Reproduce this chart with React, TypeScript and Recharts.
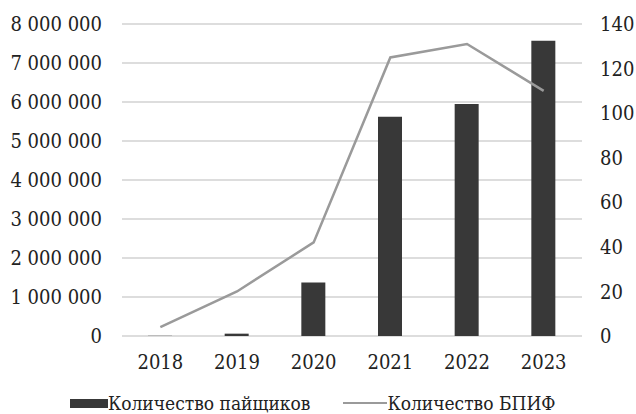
import React from 'react';
import { ComposedChart, Bar, Line, XAxis, YAxis, CartesianGrid } from 'recharts';

const years = ['2018', '2019', '2020', '2021', '2022', '2023'];
const holders = [5000, 60000, 1370000, 5620000, 5950000, 7570000];
const funds = [4, 20, 42, 125, 131, 110];
const leftTicks = [0, 1000000, 2000000, 3000000, 4000000, 5000000, 6000000, 7000000, 8000000];
const rightTicks = [0, 20, 40, 60, 80, 100, 120, 140];

const data = years.map((year, i) => ({ year, holders: holders[i], funds: funds[i] }));

const FONT = '"DejaVu Serif Condensed", "DejaVu Serif", serif';
const BAR_COLOR = '#383838';
const LINE_COLOR = '#9a9a9a';
const tickStyle = { fontFamily: FONT, fontStretch: 'condensed', fontSize: 20, fill: '#222' };

// thousands separated by spaces: 8 000 000
const formatSpaced = (v: number) => String(v).replace(/\B(?=(\d{3})+(?!\d))/g, ' ');

const App: React.FC = () => {
  return (
    <div style={{ position: 'fixed', left: 0, top: 0, width: 636, height: 414, background: '#fff' }}>
      <ComposedChart
        width={636}
        height={414}
        data={data}
        margin={{ top: 24, right: 0, left: 0, bottom: 48 }}
      >
        <CartesianGrid vertical={false} stroke="#d2d2d2" strokeWidth={1.5} yAxisId="left" />
        <XAxis
          dataKey="year"
          axisLine={false}
          tickLine={false}
          tickSize={0}
          tickMargin={19}
          height={30}
          tick={tickStyle}
        />
        <YAxis
          yAxisId="left"
          orientation="left"
          width={122}
          domain={[0, 8000000]}
          ticks={leftTicks}
          interval={0}
          axisLine={false}
          tickLine={false}
          tickSize={0}
          tickMargin={20}
          tick={tickStyle}
          tickFormatter={formatSpaced}
        />
        <YAxis
          yAxisId="right"
          orientation="right"
          width={54}
          domain={[0, 140]}
          ticks={rightTicks}
          interval={0}
          axisLine={false}
          tickLine={false}
          tickSize={0}
          tickMargin={18}
          tick={tickStyle}
        />
        <Bar yAxisId="left" dataKey="holders" fill={BAR_COLOR} barSize={24} isAnimationActive={false} />
        <Line
          yAxisId="right"
          dataKey="funds"
          type="linear"
          stroke={LINE_COLOR}
          strokeWidth={2.5}
          dot={false}
          activeDot={false}
          isAnimationActive={false}
        />
      </ComposedChart>
      <div
        style={{
          position: 'absolute',
          left: 70,
          top: 393,
          height: 20,
          lineHeight: '20px',
          display: 'flex',
          alignItems: 'center',
          fontFamily: FONT,
          fontStretch: 'condensed',
          fontSize: 19,
          color: '#222',
          whiteSpace: 'nowrap',
        }}
      >
        <span style={{ display: 'inline-block', width: 38, height: 9, background: BAR_COLOR }} />
        <span>Количество пайщиков</span>
        <span style={{ display: 'inline-block', width: 44, height: 2, background: LINE_COLOR, marginLeft: 33 }} />
        <span>Количество БПИФ</span>
      </div>
    </div>
  );
};

export default App;
